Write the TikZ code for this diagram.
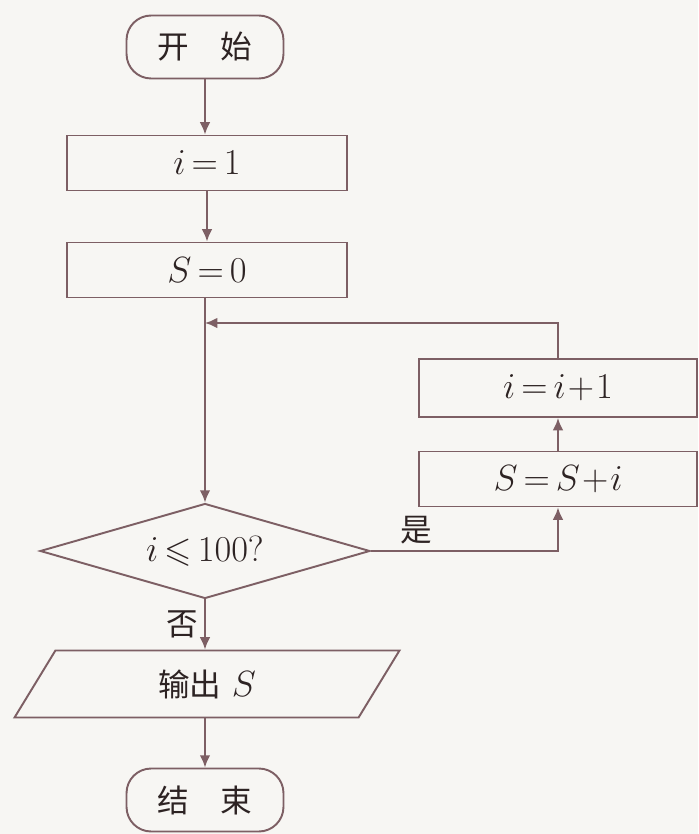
\documentclass[tikz,border=0pt]{standalone}
\usepackage{amsmath}
\usepackage{amssymb}
\usepackage{fontspec}
\usepackage{pgf,tikz}
\usetikzlibrary{shapes.geometric,arrows.meta}
\newfontfamily\cjk{Noto Sans CJK SC}
\definecolor{linea}{RGB}{125,95,100}
\definecolor{texto}{RGB}{45,35,35}
\definecolor{papel}{RGB}{247,246,243}
\thickmuskip=3mu\relax
\medmuskip=1mu\relax
\tikzstyle{terminal} = [draw=linea, line width=1.1pt, rectangle, rounded corners=14pt, minimum width=3.14cm, minimum height=1.26cm, text=texto, font=\cjk\fontsize{18}{20}\selectfont]
\tikzstyle{proceso} = [draw=linea, line width=1.1pt, rectangle, minimum width=5.6cm, minimum height=1.1cm, text=texto, font=\fontsize{20}{24}\selectfont]
\tikzstyle{decision} = [draw=linea, line width=1.1pt, diamond, aspect=3.47, minimum width=6.6cm, minimum height=1.9cm, inner sep=0pt, text=texto, font=\fontsize{20}{24}\selectfont]
\tikzstyle{salida} = [draw=linea, line width=1.1pt, trapezium, trapezium left angle=45, trapezium right angle=135, trapezium stretches body, minimum width=7.7cm, minimum height=1.34cm, text=texto, font=\fontsize{20}{24}\selectfont]
\tikzstyle{flecha} = [draw=linea, line width=1.1pt, -{Latex[length=7pt,width=6pt]}]
\tikzstyle{etiqueta} = [text=texto, font=\cjk\fontsize{18}{20}\selectfont]

\begin{document}
\begin{tikzpicture}[x=0.02cm, y=-0.02cm]
	\fill[papel] (0,0) rectangle (698,834);
	\node[terminal] (inicio) at (205,47) {开\quad 始};
	\node[proceso] (iuno) at (207,163) {$i=1$};
	\node[proceso] (scero) at (207,270) {$S=0$};
	\coordinate (junta) at (205,323);
	\node[decision] (cond) at (205,551) {$i\leqslant 100?$};
	\node[proceso, minimum width=5.56cm, minimum height=1.16cm] (incr) at (558,388) {$i=i+1$};
	\node[proceso, minimum width=5.56cm, minimum height=1.1cm] (suma) at (558,479) {$S=S+i$};
	\node[salida] (salida) at (207,684) {{\cjk\fontsize{18}{20}\selectfont 输出} $S$};
	\node[terminal] (fin) at (205,800) {结\quad 束};
	\draw[flecha] (inicio) -- (inicio |- iuno.north);
	\draw[flecha] (iuno) -- (iuno |- scero.north);
	\draw[flecha] (scero.south -| junta) -- (cond);
	\draw[flecha] (cond.east) -| node[etiqueta, above, pos=0.12]{是} (suma);
	\draw[flecha] (suma) -- (incr);
	\draw[flecha] (incr) |- (junta);
	\draw[flecha] (cond) -- node[etiqueta, left]{否} (cond |- salida.north);
	\draw[flecha] (cond |- salida.south) -- (fin);
\end{tikzpicture}
\end{document}
